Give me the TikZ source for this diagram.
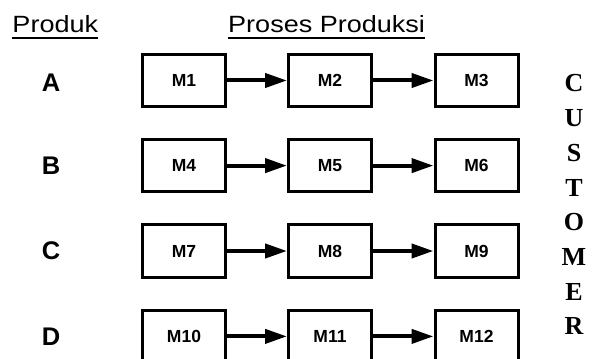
\documentclass[tikz,border=0pt]{standalone}
\usepackage{fontspec}
\setmainfont{Liberation Sans}
\newfontfamily\headfont[FakeStretch=1.15]{Liberation Sans}
\newfontfamily\custfont{Liberation Serif}
\usetikzlibrary{arrows.meta}
\begin{document}
\begin{tikzpicture}[x=1pt,y=-1pt,
  machine/.style={draw,line width=3pt,minimum width=83pt,minimum height=52.5pt,
    inner sep=0pt,font=\fontsize{17.5}{20}\selectfont\bfseries},
  flow/.style={line width=4pt,-{Triangle[length=22pt,width=14pt]}},
  heading/.style={inner sep=0pt,anchor=base west,font=\fontsize{23.5}{27}\selectfont\headfont},
  rowlabel/.style={inner sep=0pt,font=\fontsize{25.5}{30}\selectfont\bfseries},
  underbar/.style={line width=2pt}]
  \useasboundingbox (0,0) rectangle (593,358);
  \clip (0,0) rectangle (593,358);
  \fill[white] (0,0) rectangle (593,358);

  % column headings
  \node[heading] (produk) at (12.3,33) {Produk};
  \node[heading] (proses) at (228,33) {Proses Produksi};
  \draw[underbar] ([yshift=-5.5pt]produk.base west) -- ([yshift=-5.5pt]produk.base east);
  \draw[underbar] ([yshift=-5.5pt]proses.base west) -- ([yshift=-5.5pt]proses.base east);

  % product labels
  \node[rowlabel] (pa) at (51,82.5) {A};
  \node[rowlabel] (pb) at (51,165.5) {B};
  \node[rowlabel] (pc) at (51,251) {C};
  \node[rowlabel] (pd) at (51,336.5) {D};

  % machines per product line
  \node[machine] (m1)  at (184,80.5)  {M1};
  \node[machine] (m2)  at (330,80.5)  {M2};
  \node[machine] (m3)  at (476.5,80.5) {M3};
  \node[machine] (m4)  at (184,165.6) {M4};
  \node[machine] (m5)  at (330,165.6) {M5};
  \node[machine] (m6)  at (476.5,165.6) {M6};
  \node[machine] (m7)  at (184,251)   {M7};
  \node[machine] (m8)  at (330,251)   {M8};
  \node[machine] (m9)  at (476.5,251) {M9};
  \node[machine] (m10) at (184,336.4) {M10};
  \node[machine] (m11) at (330,336.4) {M11};
  \node[machine] (m12) at (476.5,336.4) {M12};

  % process flow
  \draw[flow] (m1) -- (m2);  \draw[flow] (m2) -- (m3);
  \draw[flow] (m4) -- (m5);  \draw[flow] (m5) -- (m6);
  \draw[flow] (m7) -- (m8);  \draw[flow] (m8) -- (m9);
  \draw[flow] (m10) -- (m11); \draw[flow] (m11) -- (m12);

  % customer, written vertically
  \node[inner sep=0pt,anchor=north,align=center,
    font=\fontsize{26}{34.7}\selectfont\custfont\bfseries] (customer) at (574,74.5)
    {C\\U\\S\\T\\O\\M\\E\\R};
\end{tikzpicture}
\end{document}
